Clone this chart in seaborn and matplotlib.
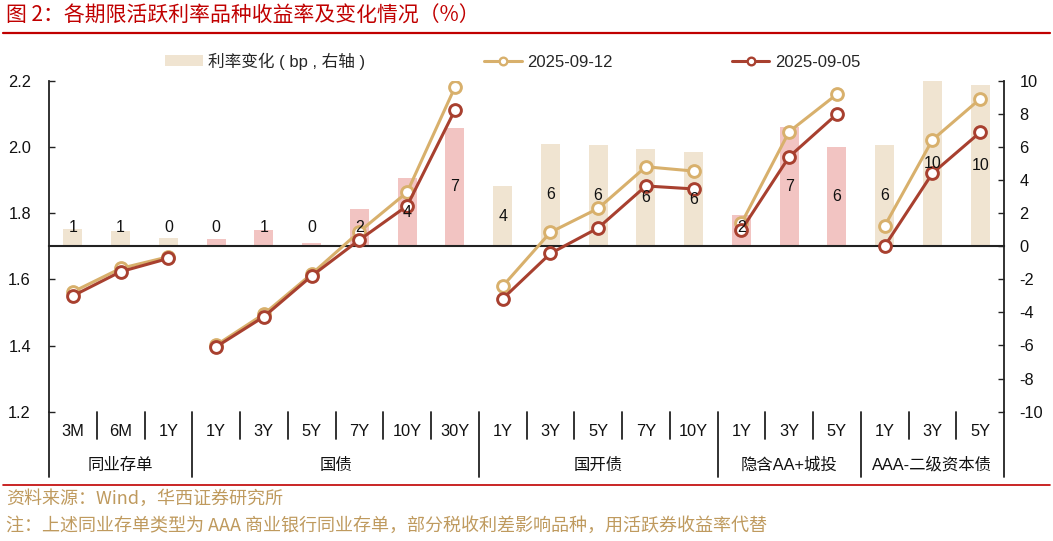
import numpy as np
import pandas as pd
import matplotlib
matplotlib.use("Agg")
import matplotlib.pyplot as plt
from matplotlib.lines import Line2D
from matplotlib.patches import Patch
import seaborn as sns

sns.set_theme(style="white")
plt.rcParams['font.family'] = ['Liberation Sans', 'Noto Sans CJK SC', 'DejaVu Sans']
plt.rcParams['axes.unicode_minus'] = False

# ---------------- data ----------------
groups = ['同业存单', '国债', '国开债', '隐含AA+城投', 'AAA-二级资本债']
group_terms = [
    ['3M', '6M', '1Y'],
    ['1Y', '3Y', '5Y', '7Y', '10Y', '30Y'],
    ['1Y', '3Y', '5Y', '7Y', '10Y'],
    ['1Y', '3Y', '5Y'],
    ['1Y', '3Y', '5Y'],
]
yield_0912 = [1.562, 1.633, 1.668,
              1.401, 1.495, 1.616, 1.744, 1.863, 2.180,
              1.579, 1.742, 1.814, 1.940, 1.927,
              1.769, 2.046, 2.159,
              1.761, 2.021, 2.145]
yield_0905 = [1.550, 1.623, 1.663,
              1.396, 1.487, 1.610, 1.719, 1.822, 2.111,
              1.541, 1.678, 1.755, 1.882, 1.873,
              1.749, 1.970, 2.099,
              1.700, 1.920, 2.044]
change_bp = [1.04, 0.94, 0.48,
             0.42, 0.98, 0.17, 2.25, 4.10, 7.16,
             3.64, 6.20, 6.10, 5.85, 5.67,
             1.90, 7.23, 6.02,
             6.10, 10.0, 9.74]
legend_labels = ['利率变化 ( bp , 右轴 )', '2025-09-12', '2025-09-05']

# build table
rows = []
for gi, (g, terms) in enumerate(zip(groups, group_terms)):
    for t in terms:
        rows.append({'group': g, 'term': t, 'shade': 'a' if gi % 2 == 0 else 'b'})
df = pd.DataFrame(rows)
df['pos'] = np.arange(len(df))
df['y0912'] = yield_0912
df['y0905'] = yield_0905
df['chg'] = change_bp
n = len(df)

c_beige = '#F0E4D1'
c_pink = '#F2C4C2'
c_tan = '#D8B06C'
c_red = '#A8402F'
c_axis = '#222222'

fig = plt.figure(figsize=(10.53, 5.41), dpi=100)
W, H = 1053, 541
ax_l, ax_r, ax_t, ax_b = 49, 1004, 80.7, 411.7
ax = fig.add_axes([ax_l / W, 1 - ax_b / H, (ax_r - ax_l) / W, (ax_b - ax_t) / H])
ax2 = ax.twinx()
ax.set_zorder(3)
ax2.set_zorder(1)
ax.patch.set_visible(False)

# bars on right axis
sns.barplot(data=df, x='pos', y='chg', hue='shade', palette={'a': c_beige, 'b': c_pink},
            native_scale=True, dodge=False, width=0.4, legend=False, ax=ax2,
            saturation=1, linewidth=0)

# lines on left axis
for col, c in [('y0912', c_tan), ('y0905', c_red)]:
    sns.lineplot(data=df, x='pos', y=col, units='group', estimator=None, color=c,
                 linewidth=2.2, marker='o', markersize=8.5, markerfacecolor='white',
                 markeredgecolor=c, markeredgewidth=2.1, ax=ax, legend=False)

# bar labels
for p, v in zip(df['pos'], df['chg']):
    ax.text(p, max(v / 2, 1.1), f"{int(round(v))}", transform=ax2.transData,
            ha='center', va='center', fontsize=11.5, color='#111111', zorder=10)

ax.set_xlim(-0.5, n - 0.5)
ax.set_ylim(1.2, 2.2)
ax2.set_ylim(-10, 10)
ax.set_yticks(np.round(np.arange(1.2, 2.21, 0.2), 1))
ax.set_yticklabels([f"{v:.1f}" for v in np.arange(1.2, 2.21, 0.2)])
ax2.set_yticks(np.arange(-10, 11, 2))
ax2.set_yticklabels([str(v) for v in range(-10, 11, 2)])
ax.set_xlabel('')
ax.set_ylabel('')
ax2.set_xlabel('')
ax2.set_ylabel('')

boundaries = np.arange(0.5, n - 1, 1.0)
ax2.set_xticks(boundaries)
ax2.tick_params(axis='x', direction='in', length=4, width=1.2, color=c_axis,
                bottom=True, labelbottom=False, top=False)
ax.tick_params(axis='x', bottom=False, labelbottom=False, top=False)
ax.tick_params(axis='y', direction='in', length=4, width=1.0, color=c_axis,
               labelsize=11.8, pad=13, left=True, right=False, labelcolor='#111111')
ax2.tick_params(axis='y', direction='in', length=4, width=1.0, color=c_axis,
                labelsize=11.8, pad=11, right=True, left=False, labelcolor='#111111')

for s in ['top', 'right', 'bottom']:
    ax.spines[s].set_visible(False)
ax.spines['left'].set_color(c_axis)
ax.spines['left'].set_linewidth(1.3)
for s in ['top', 'left']:
    ax2.spines[s].set_visible(False)
ax2.spines['right'].set_color(c_axis)
ax2.spines['right'].set_linewidth(1.3)
ax2.spines['bottom'].set_position(('data', 0))
ax2.spines['bottom'].set_color(c_axis)
ax2.spines['bottom'].set_linewidth(1.5)

# category table under the plot
trans = ax.get_xaxis_transform()
group_edges = [-0.5]
acc = -0.5
for terms in group_terms:
    acc += len(terms)
    group_edges.append(acc)
for xb in [-0.5] + list(boundaries) + [n - 0.5]:
    is_group = any(abs(xb - e) < 1e-9 for e in group_edges)
    y1 = -0.198 if is_group else -0.083
    ax.add_line(Line2D([xb, xb], [0, y1], transform=trans, color=c_axis,
                       lw=1.3, clip_on=False))
for p, t in zip(df['pos'], df['term']):
    ax.text(p, -0.061, t, transform=trans, ha='center', va='center',
            fontsize=11.8, color='#111111')
for gi, g in enumerate(groups):
    mid = (group_edges[gi] + group_edges[gi + 1]) / 2
    ax.text(mid, -0.161, g, transform=trans, ha='center', va='center',
            fontsize=11.8, color='#111111')

# legend
handles = [
    Patch(facecolor=c_beige, edgecolor='none'),
    Line2D([], [], color=c_tan, lw=2.2, marker='o', markersize=5.5,
           markerfacecolor='white', markeredgecolor=c_tan, markeredgewidth=1.7),
    Line2D([], [], color=c_red, lw=2.2, marker='o', markersize=5.5,
           markerfacecolor='white', markeredgecolor=c_red, markeredgewidth=1.7),
]
fig.legend(handles, legend_labels, loc='center left', bbox_to_anchor=(165 / W, 1 - 61 / H),
           ncol=3, frameon=False, fontsize=12, borderpad=0, borderaxespad=0,
           handlelength=2.25, handleheight=0.6, handletextpad=0.33, columnspacing=7.15)

# title and decorations
fig.text(6 / W, 1 - 16 / H, '图 2：各期限活跃利率品种收益率及变化情况（%）',
         ha='left', va='center', fontsize=15, color='#C00000',
         family=['Noto Sans CJK SC', 'DejaVu Sans'])
fig.add_artist(Line2D([3 / W, 1050 / W], [1 - 33 / H] * 2, color='#C00000', lw=1.6))
fig.add_artist(Line2D([3 / W, 1050 / W], [1 - 485 / H] * 2, color='#C00000', lw=1.2))
fig.text(6 / W, 1 - 499 / H, '资料来源：Wind，华西证券研究所', ha='left', va='center',
         fontsize=13, color='#BF9A5E', family=['Noto Sans CJK SC', 'DejaVu Sans'])
fig.text(6 / W, 1 - 526 / H,
         '注：上述同业存单类型为 AAA 商业银行同业存单，部分税收利差影响品种，用活跃券收益率代替',
         ha='left', va='center', fontsize=13, color='#BF9A5E',
         family=['Noto Sans CJK SC', 'DejaVu Sans'])

fig.savefig('out.png', dpi=100)
